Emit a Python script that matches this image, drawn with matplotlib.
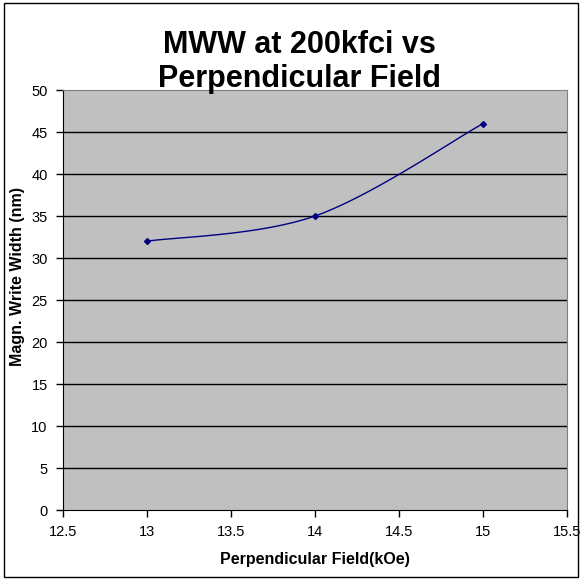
import numpy as np
import matplotlib
matplotlib.use("Agg")
import matplotlib.pyplot as plt
from matplotlib.patches import Rectangle

# datos del grafico
campo_perp = [13, 14, 15]
mww_nm = [32, 35, 46]
ticks_x = [12.5, 13, 13.5, 14, 14.5, 15, 15.5]
ticks_y = [0, 5, 10, 15, 20, 25, 30, 35, 40, 45, 50]

plt.rcParams['font.family'] = ['Liberation Sans', 'DejaVu Sans']


def curva_suave(x, y, n=60):
    """Curva tipo Excel (Bezier con tangentes Catmull-Rom)."""
    p = np.column_stack([x, y]).astype(float)
    ext = np.vstack([p[0], p, p[-1]])
    puntos = []
    for i in range(len(p) - 1):
        p0, p1, p2, p3 = ext[i], ext[i + 1], ext[i + 2], ext[i + 3]
        c1 = p1 + (p2 - p0) / 6
        c2 = p2 - (p3 - p1) / 6
        t = np.linspace(0, 1, n)[:, None]
        seg = ((1 - t) ** 3) * p1 + 3 * ((1 - t) ** 2) * t * c1 + 3 * (1 - t) * t ** 2 * c2 + t ** 3 * p2
        puntos.append(seg)
    pts = np.vstack(puntos)
    return pts[:, 0], pts[:, 1]


fig = plt.figure(figsize=(5.82, 5.80), dpi=100)
ax = fig.add_axes([63 / 582, 70 / 580, 504 / 582, 420 / 580])
ax.set_facecolor('#C0C0C0')

for v in ticks_y[1:-1]:
    ax.axhline(v, color='black', linewidth=1.0, zorder=1)

xs, ys = curva_suave(campo_perp, mww_nm)
ax.plot(xs, ys, color='#000080', linewidth=1.0, zorder=3)
ax.plot(campo_perp, mww_nm, linestyle='none', marker='D', markersize=3,
        color='#000080', zorder=4)

ax.set_xlim(12.5, 15.5)
ax.set_ylim(0, 50)
ax.set_xticks(ticks_x)
ax.set_xticklabels([f"{t:g}" for t in ticks_x])
ax.set_yticks(ticks_y)
ax.tick_params(axis='both', direction='out', length=5, width=1, labelsize=10.5)
ax.tick_params(axis='x', pad=6)
ax.tick_params(axis='y', pad=6)

for lado in ['top', 'right']:
    ax.spines[lado].set_color('#808080')
for lado in ['left', 'bottom']:
    ax.spines[lado].set_color('black')

ax.set_xlabel("Perpendicular Field(kOe)", fontsize=11.5, fontweight='bold', labelpad=9)
ax.set_ylabel("Magn. Write Width (nm)", fontsize=11.5, fontweight='bold')
ax.yaxis.set_label_coords(-0.0754, (510 - 276) / 420)

fig.text(299 / 582, 1 - 62 / 580, "MWW at 200kfci vs\nPerpendicular Field",
         ha='center', va='center', fontsize=22, fontweight='bold', linespacing=1.15, zorder=10)

fig.patches.append(Rectangle((4 / 582, 3 / 580), 574 / 582, 574 / 580, transform=fig.transFigure,
                             fill=False, edgecolor='black', linewidth=1))

fig.savefig("out.png", dpi=100)
